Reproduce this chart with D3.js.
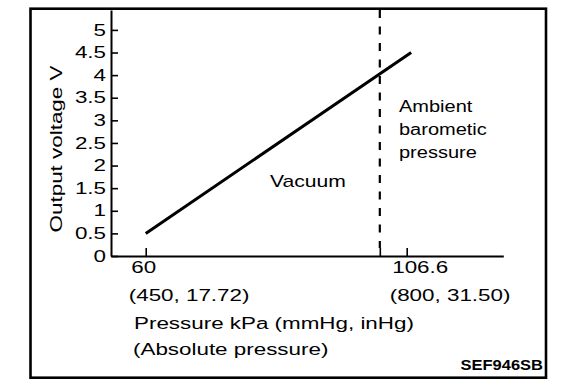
<!DOCTYPE html>
<html><head><meta charset="utf-8">
<script src="https://cdn.jsdelivr.net/npm/d3@7/dist/d3.min.js"></script>
<style>
html,body{margin:0;padding:0;background:#fff;}
text{font-family:"Liberation Sans",Arial,Helvetica,sans-serif;fill:#000;}
</style></head>
<body>
<svg id="c" width="576" height="388"></svg>
<script>
// ---- data ----
const pressureKPa = [60, 107.4];
const outputVoltage = [0.5, 4.5];
const yTicks = [0, 0.5, 1, 1.5, 2, 2.5, 3, 3.5, 4, 4.5, 5];
const yTickLabels = ["0", "0.5", "1", "1.5", "2", "2.5", "3", "3.5", "4", "4.5", "5"];
const xTickValues = [60, 101.8, 106.6];
const xLabelValues = [60, 106.6];
const xLabelLine1 = ["60", "106.6"];
const xLabelLine2 = ["(450, 17.72)", "(800, 31.50)"];
const ambientPressure = 101.8;
const yTitle = "Output voltage V";
const xTitle = ["Pressure kPa (mmHg, inHg)", "(Absolute pressure)"];
const regionVacuum = "Vacuum";
const regionAmbient = ["Ambient", "barometic", "pressure"];
const figId = "SEF946SB";

// ---- layout ----
const SX = 1.4; // horizontal stretch of the original lettering
const svg = d3.select("#c");
svg.append("rect").attr("x", 30.5).attr("y", 8.7).attr("width", 515.5).attr("height", 369)
  .attr("fill", "none").attr("stroke", "#000").attr("stroke-width", 2.6);

const x = d3.scaleLinear().domain([53.8, 123.85]).range([111, 503.3]);
const y = d3.scaleLinear().domain([0, 5.44]).range([256, 10]);

// y axis
const gy = svg.append("g").attr("transform", `translate(${x(53.8)},0)`)
  .call(d3.axisLeft(y).tickValues(yTicks).tickSize(-7).tickPadding(5)
    .tickFormat((d, i) => yTickLabels[i]).tickSizeOuter(0));
gy.select(".domain").attr("stroke-width", 2);
gy.selectAll(".tick line").attr("stroke-width", 1.6);
gy.selectAll(".tick text").attr("font-size", 16).attr("font-family", null)
  .attr("x", -5 / SX).attr("transform", `scale(${SX},1)`);

// x axis
const gx = svg.append("g").attr("transform", `translate(0,${y(0)})`)
  .call(d3.axisBottom(x).tickValues(xTickValues).tickSize(-8).tickFormat("").tickSizeOuter(0));
gx.select(".domain").attr("stroke-width", 2);
gx.selectAll(".tick line").attr("stroke-width", 1.6);

// ambient dashed line
svg.append("line").attr("x1", x(ambientPressure)).attr("x2", x(ambientPressure))
  .attr("y1", y.range()[1]).attr("y2", y(0) - 8)
  .attr("stroke", "#000").attr("stroke-width", 2.2).attr("stroke-dasharray", "8,8.5");

// characteristic line
const pts = pressureKPa.map((p, i) => [p, outputVoltage[i]]);
svg.append("path").datum(pts)
  .attr("d", d3.line().x(d => x(d[0])).y(d => y(d[1])))
  .attr("fill", "none").attr("stroke", "#000").attr("stroke-width", 3);

function stext(tx, ty, str, opts = {}) {
  const t = svg.append("text")
    .attr("transform", `translate(${tx},${ty})${opts.rotate ? " rotate(" + opts.rotate + ")" : ""} scale(${opts.sx || SX},1)`)
    .attr("font-size", opts.size || 16)
    .attr("text-anchor", opts.anchor || "start")
    .text(str);
  if (opts.bold) t.attr("font-weight", "bold");
  return t;
}

// x labels
xLabelValues.forEach((v, i) => {
  stext(x(v) - 14.5, 272.7, xLabelLine1[i]);
  stext(x(v) - 17, 300.7, xLabelLine2[i]);
});
stext(134, 329, xTitle[0]);
stext(133, 355, xTitle[1]);

// y title
stext(62, 149, yTitle, { rotate: -90, anchor: "middle" });

// region labels
stext(270, 187, regionVacuum, { sx: 1.32 });
regionAmbient.forEach((s, i) => stext(399, 112 + i * 23, s, { sx: 1.25 }));

// figure id
stext(543, 369.5, figId, { anchor: "end", bold: true, size: 15, sx: 1.1 });
</script>
</body></html>
